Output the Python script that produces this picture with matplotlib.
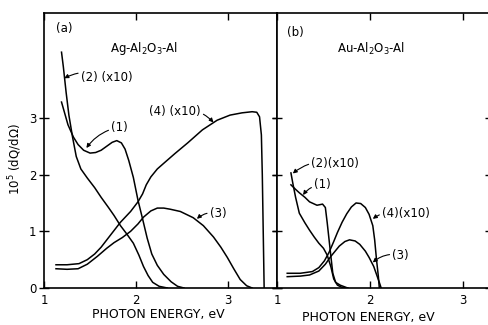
import numpy as np
import matplotlib.pyplot as plt

# panel (a) Ag-Al2O3-Al
a1_x = [1.19, 1.26, 1.32, 1.37, 1.43, 1.50, 1.56, 1.62, 1.68, 1.74, 1.79, 1.84, 1.88, 1.92, 1.97, 2.02, 2.07, 2.12, 2.17, 2.23, 2.30, 2.38, 2.45, 2.52]
a1_y = [3.28, 2.88, 2.66, 2.53, 2.43, 2.38, 2.39, 2.43, 2.50, 2.57, 2.60, 2.56, 2.45, 2.25, 1.95, 1.55, 1.22, 0.88, 0.60, 0.40, 0.24, 0.11, 0.03, 0.0]
a2_x = [1.19, 1.21, 1.24, 1.27, 1.31, 1.35, 1.40, 1.47, 1.55, 1.62, 1.70, 1.76, 1.83, 1.90, 1.97, 2.03, 2.08, 2.13, 2.18, 2.25, 2.34]
a2_y = [4.16, 3.90, 3.45, 3.05, 2.66, 2.32, 2.10, 1.94, 1.77, 1.60, 1.42, 1.28, 1.10, 0.95, 0.79, 0.58, 0.38, 0.22, 0.10, 0.03, 0.0]
a3_x = [1.13, 1.25, 1.37, 1.47, 1.58, 1.68, 1.76, 1.85, 1.94, 2.02, 2.08, 2.16, 2.23, 2.30, 2.37, 2.48, 2.62, 2.73, 2.84, 2.92, 2.99, 3.06, 3.13, 3.20, 3.26]
a3_y = [0.34, 0.33, 0.34, 0.42, 0.56, 0.70, 0.80, 0.89, 1.00, 1.13, 1.25, 1.36, 1.41, 1.41, 1.39, 1.35, 1.24, 1.10, 0.90, 0.72, 0.54, 0.34, 0.15, 0.04, 0.0]
a4_x = [1.13, 1.25, 1.38, 1.47, 1.55, 1.62, 1.72, 1.83, 1.94, 2.02, 2.07, 2.11, 2.16, 2.23, 2.30, 2.42, 2.56, 2.72, 2.88, 3.02, 3.15, 3.26, 3.31, 3.34, 3.36, 3.37, 3.38, 3.39]
a4_y = [0.41, 0.41, 0.43, 0.50, 0.60, 0.72, 0.93, 1.16, 1.35, 1.52, 1.66, 1.82, 1.96, 2.10, 2.20, 2.37, 2.56, 2.79, 2.96, 3.05, 3.09, 3.11, 3.10, 3.02, 2.70, 2.00, 1.00, 0.0]

# panel (b) Au-Al2O3-Al
b1_x = [1.15, 1.20, 1.24, 1.30, 1.35, 1.43, 1.49, 1.52, 1.54, 1.56, 1.58, 1.60, 1.63, 1.68, 1.76]
b1_y = [1.82, 1.74, 1.68, 1.60, 1.52, 1.46, 1.48, 1.42, 1.15, 0.85, 0.55, 0.26, 0.10, 0.05, 0.0]
b2_x = [1.15, 1.17, 1.20, 1.24, 1.30, 1.35, 1.40, 1.45, 1.50, 1.54, 1.58, 1.61, 1.65, 1.70, 1.76]
b2_y = [2.03, 1.85, 1.60, 1.32, 1.15, 1.02, 0.90, 0.79, 0.70, 0.58, 0.37, 0.16, 0.05, 0.01, 0.0]
b3_x = [1.11, 1.25, 1.35, 1.45, 1.52, 1.58, 1.67, 1.73, 1.78, 1.84, 1.89, 1.95, 1.99, 2.04, 2.07, 2.10, 2.12]
b3_y = [0.20, 0.21, 0.23, 0.30, 0.42, 0.56, 0.74, 0.82, 0.85, 0.83, 0.77, 0.65, 0.54, 0.38, 0.24, 0.10, 0.0]
b4_x = [1.11, 1.25, 1.38, 1.45, 1.51, 1.56, 1.61, 1.65, 1.70, 1.75, 1.80, 1.85, 1.90, 1.95, 1.99, 2.03, 2.05, 2.07, 2.09, 2.10]
b4_y = [0.26, 0.26, 0.29, 0.36, 0.48, 0.63, 0.82, 0.98, 1.16, 1.31, 1.43, 1.50, 1.49, 1.42, 1.30, 1.10, 0.85, 0.50, 0.20, 0.0]

xticks = [1, 2, 3]
yticks = [0, 1, 2, 3]

fig = plt.figure(figsize=(4.88, 3.25), dpi=100)
axa = fig.add_axes([0.0902, 0.1138, 0.4775, 0.846])
axb = fig.add_axes([0.5676, 0.1138, 0.4365, 0.846])

lw = 1.1
for x, y in [(a1_x, a1_y), (a2_x, a2_y), (a3_x, a3_y), (a4_x, a4_y)]:
    axa.plot(x, y, color='k', lw=lw)
for x, y in [(b1_x, b1_y), (b2_x, b2_y), (b3_x, b3_y), (b4_x, b4_y)]:
    axb.plot(x, y, color='k', lw=lw)

axa.set_xlim(1.01, 3.53)
axb.set_xlim(1.0, 3.29)
for ax in (axa, axb):
    ax.set_ylim(0, 4.85)
    ax.set_xticks(xticks)
    ax.set_yticks(yticks)
    for s in ax.spines.values():
        s.set_linewidth(1.2)
    ax.tick_params(axis='x', direction='in', top=True, length=5, width=1,
                   labelsize=8.5, pad=4)

axa.tick_params(axis='y', direction='inout', left=True, right=True, length=7,
                width=1, labelsize=8.5, pad=2)
axb.tick_params(axis='y', direction='inout', left=True, right=True, length=7,
                width=1, labelleft=False)

fs = 8.5
axa.text(1.13, 4.57, '(a)', fontsize=fs, va='center')
axa.text(1.72, 4.22, 'Ag-Al$_2$O$_3$-Al', fontsize=fs, va='center')
axb.text(1.11, 4.50, '(b)', fontsize=fs, va='center')
axb.text(1.64, 4.22, 'Au-Al$_2$O$_3$-Al', fontsize=fs, va='center')

arr = dict(arrowstyle='-|>', lw=0.8, color='k', mutation_scale=6,
           shrinkA=0, shrinkB=0)
axa.annotate('(2) (x10)', xy=(1.22, 3.70), xytext=(1.40, 3.72), fontsize=fs,
             va='center', arrowprops=dict(arr, connectionstyle='arc3,rad=0.25'))
axa.annotate('(1)', xy=(1.46, 2.47), xytext=(1.73, 2.84), fontsize=fs,
             va='center', arrowprops=dict(arr, connectionstyle='arc3,rad=0.2'))
axa.annotate('(4) (x10)', xy=(2.84, 2.92), xytext=(2.14, 3.12), fontsize=fs,
             va='center', arrowprops=dict(arr, connectionstyle='arc3,rad=-0.3'))
axa.annotate('(3)', xy=(2.66, 1.22), xytext=(2.80, 1.32), fontsize=fs,
             va='center', arrowprops=dict(arr, connectionstyle='arc3,rad=0.25'))

axb.annotate('(2)(x10)', xy=(1.17, 2.02), xytext=(1.37, 2.20), fontsize=fs,
             va='center', arrowprops=dict(arr, connectionstyle='arc3,rad=0.25'))
axb.annotate('(1)', xy=(1.28, 1.64), xytext=(1.40, 1.82), fontsize=fs,
             va='center', arrowprops=dict(arr, connectionstyle='arc3,rad=0.25'))
axb.annotate('(4)(x10)', xy=(2.03, 1.22), xytext=(2.13, 1.32), fontsize=fs,
             va='center', arrowprops=dict(arr, connectionstyle='arc3,rad=0.25'))
axb.annotate('(3)', xy=(2.03, 0.45), xytext=(2.24, 0.58), fontsize=fs,
             va='center', arrowprops=dict(arr, connectionstyle='arc3,rad=0.25'))

fig.text(0.325, 0.033, 'PHOTON ENERGY, eV', fontsize=9, ha='center', va='center')
fig.text(0.755, 0.022, 'PHOTON ENERGY, eV', fontsize=9, ha='center', va='center')
fig.text(0.031, 0.51, '10$^5$ (dQ/d$\\Omega$)', fontsize=8.5, rotation=90,
         ha='center', va='center')

fig.savefig('out.png', dpi=100)
